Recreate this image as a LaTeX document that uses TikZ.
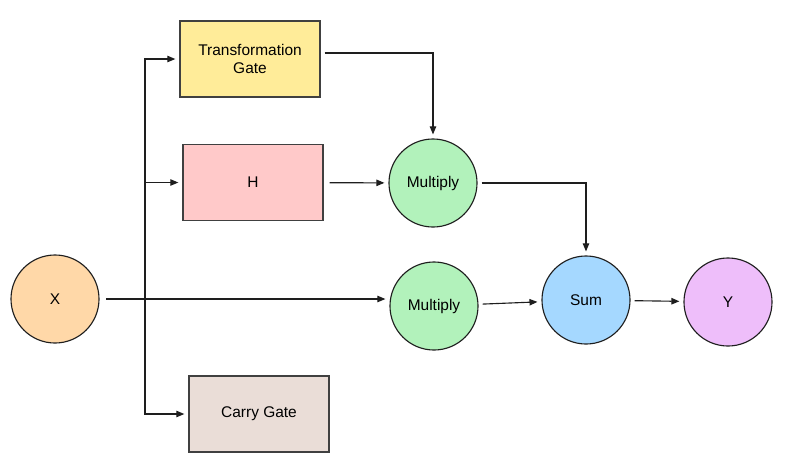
\documentclass[tikz,border=0pt]{standalone}
\usepackage{fontspec}
\setmainfont{Liberation Sans}
\usetikzlibrary{arrows.meta}

\definecolor{strokegray}{HTML}{1E1E1E}
\definecolor{gateyellow}{HTML}{FFEC99}
\definecolor{hred}{HTML}{FFC9C9}
\definecolor{carrybrown}{HTML}{EADDD7}
\definecolor{xorange}{HTML}{FFD8A8}
\definecolor{mulgreen}{HTML}{B2F2BB}
\definecolor{sumblue}{HTML}{A5D8FF}
\definecolor{ypurple}{HTML}{EEBEFA}

\tikzset{
    block/.style={draw=strokegray!85, line width=0.9pt, minimum width=3.5cm, minimum height=1.9cm, align=center, font=\fontsize{11}{13}\selectfont},
    op/.style={draw=strokegray, line width=0.8pt, circle, minimum size=2.2cm, font=\fontsize{11}{13}\selectfont},
    link/.style={draw=strokegray, line width=0.8pt, -{Triangle[length=2mm,width=1.6mm]}, shorten >=0.1cm}
}

\begin{document}
\begin{tikzpicture}[x=0.025cm, y=-0.025cm]
    \useasboundingbox (0,0) rectangle (796,462);

    \node[op, fill=xorange] (x) at (55,299) {X};
    \node[block, fill=gateyellow] (tgate) at (250,59) {Transformation\\Gate};
    \node[block, fill=hred] (h) at (253,182.5) {H};
    \node[block, fill=carrybrown] (cgate) at (259,414) {Carry Gate};
    \node[op, fill=mulgreen] (mulA) at (433,183) {Multiply};
    \node[op, fill=mulgreen] (mulB) at (434,306) {Multiply};
    \node[op, fill=sumblue] (sum) at (586,300) {Sum};
    \node[op, fill=ypurple] (y) at (728,302) {Y};

    \coordinate (split) at (145,299);

    \draw[link, shorten <=0.17cm] (x) -- (x -| mulB.west);
    \draw[link] (split) |- (tgate);
    \draw[link] (split) |- (h);
    \draw[link] (split) |- (cgate);

    \draw[link, shorten <=0.1cm] ([yshift=0.15cm]tgate.east) -| (mulA);
    \draw[link, shorten <=0.15cm] (h) -- (mulA);
    \draw[link, shorten <=0.1cm] (mulA) -| (sum);
    \draw[link, shorten <=0.1cm] (mulB) -- (sum);
    \draw[link, shorten <=0.1cm] (sum) -- (y);
\end{tikzpicture}
\end{document}
